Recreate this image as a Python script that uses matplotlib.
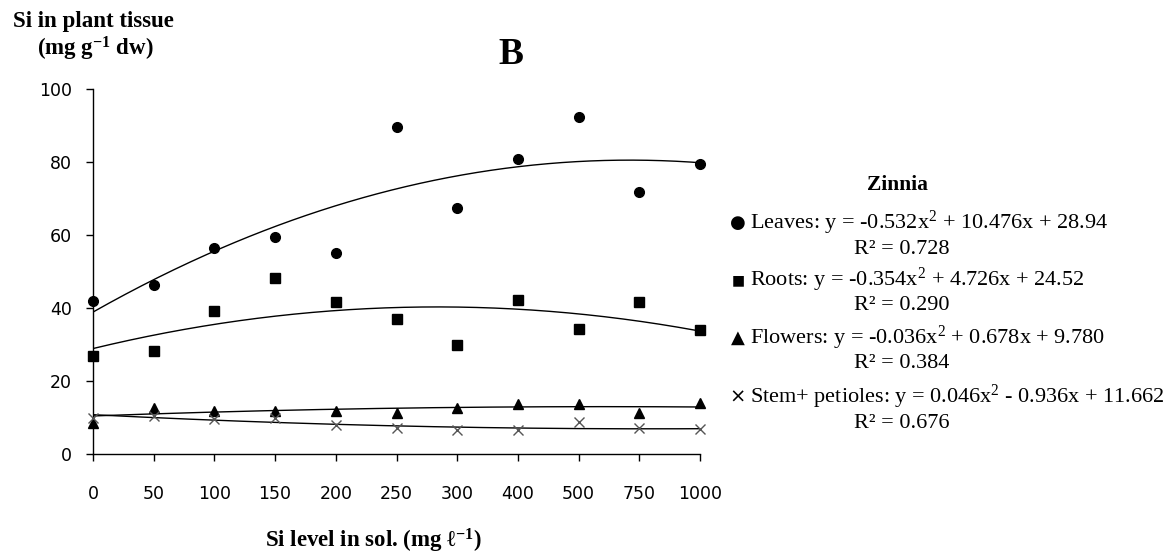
import numpy as np
import matplotlib
matplotlib.use("Agg")
import matplotlib.pyplot as plt

plt.rcParams["mathtext.fontset"] = "custom"
plt.rcParams["mathtext.rm"] = "Liberation Serif"
plt.rcParams["mathtext.it"] = "Liberation Serif:italic"
plt.rcParams["mathtext.bf"] = "Liberation Serif:bold"

si_levels = ["0", "50", "100", "150", "200", "250", "300", "400", "500", "750", "1000"]

leaves = [41.9, 46.3, 56.5, 59.5, 55.1, 89.7, 67.3, 80.8, 92.4, 71.9, 79.4]
roots = [26.8, 28.3, 39.3, 48.1, 41.6, 36.9, 29.9, 42.2, 34.2, 41.6, 34.0]
flowers = [8.6, 12.5, 11.9, 11.9, 11.8, 11.3, 12.7, 13.6, 13.6, 11.2, 13.9]
stem = [9.8, 10.5, 9.5, 10.0, 7.9, 7.2, 6.6, 6.6, 8.7, 7.0, 6.8]

# quadratic trends y = a*x^2 + b*x + c, with x counted 1..11 along the axis
leaves_fit = (-0.532, 10.476, 28.94)
roots_fit = (-0.354, 4.726, 24.52)
flowers_fit = (-0.036, 0.678, 9.780)
stem_fit = (0.046, -0.936, 11.662)
r_squared = ["0.728", "0.290", "0.384", "0.676"]

W, H = 1176, 555


def fx(x):
    return x / W


def fy(y):
    return 1 - y / H


fig = plt.figure(figsize=(W / 100, H / 100), dpi=100)
ax = fig.add_axes([fx(93), fy(454), (700 - 93) / W, (454 - 89) / H])

idx = np.arange(len(si_levels))
xs = np.linspace(0, len(si_levels) - 1, 300)
for a, b, c in [leaves_fit, roots_fit, flowers_fit, stem_fit]:
    xx = xs + 1
    ax.plot(xs, a * xx ** 2 + b * xx + c, color="black", lw=1)

ax.plot(idx, leaves, "o", color="black", ms=7, clip_on=False, zorder=3)
ax.plot(idx, roots, "s", color="black", ms=6.5, clip_on=False, zorder=3)
ax.plot(idx, flowers, "^", color="black", ms=7, clip_on=False, zorder=3)
ax.plot(idx, stem, "x", color="#555555", ms=7, mew=1, clip_on=False, zorder=3)

ax.set_xlim(0, len(si_levels) - 1)
ax.set_ylim(0, 100)
ax.set_xticks(idx, si_levels)
ax.set_yticks(range(0, 101, 20))
for s in ["top", "right"]:
    ax.spines[s].set_visible(False)
for s in ["left", "bottom"]:
    ax.spines[s].set_linewidth(1)
ax.tick_params(direction="out", length=5, width=1, labelsize=12.5)
ax.tick_params(axis="y", pad=10)
ax.tick_params(axis="x", pad=17)

serif = ["Liberation Serif", "DejaVu Serif"]

fig.text(fx(511), fy(54), "B", fontsize=27, fontweight="bold", family=serif,
         ha="center", va="center")
fig.text(fx(93), fy(22), "Si in plant tissue", fontsize=16.5, fontweight="bold",
         family=serif, ha="center", va="center")
fig.text(fx(95), fy(49), r"(mg g$^{\mathbf{-1}}$ dw)", fontsize=16.5,
         fontweight="bold", family=serif, ha="center", va="center")
fig.text(fx(373), fy(541), "Si level in sol. (mg \u2113$^{\\mathbf{-1}}$)",
         fontsize=16.5, fontweight="bold", family=serif, ha="center", va="center")

# legend block with fitted equations
fig.text(fx(897), fy(185), "Zinnia", fontsize=15.5, fontweight="bold", family=serif,
         ha="center", va="center")

entries = [
    ("\u25cf", "Leaves", leaves_fit, ["-0.532", "10.476", "28.94"]),
    ("\u25a0", "Roots", roots_fit, ["-0.354", "4.726", "24.52"]),
    ("\u25b2", "Flowers", flowers_fit, ["-0.036", "0.678", "9.780"]),
    ("\u00d7", "Stem+ petioles", stem_fit, ["0.046", "0.936", "11.662"]),
]
row_y = [223, 280, 338, 397]
marker_size = [13, 10, 13, 14]
for (glyph, name, fit, txt), y, r2, ms in zip(entries, row_y, r_squared, marker_size):
    sign = "-" if fit[1] < 0 else "+"
    label = f"{name}: y = {txt[0]}x$^{{2}}$ {sign} {txt[1]}x + {txt[2]}"
    fig.text(fx(738), fy(y), glyph, fontsize=ms, family=["DejaVu Sans"],
             ha="center", va="center")
    fig.text(fx(750), fy(y), label, fontsize=16, family=serif,
             ha="left", va="center")
    fig.text(fx(854), fy(y + 26), f"R\u00b2 = {r2}", fontsize=16, family=serif,
             ha="left", va="center")

fig.savefig("out.png", dpi=100)
